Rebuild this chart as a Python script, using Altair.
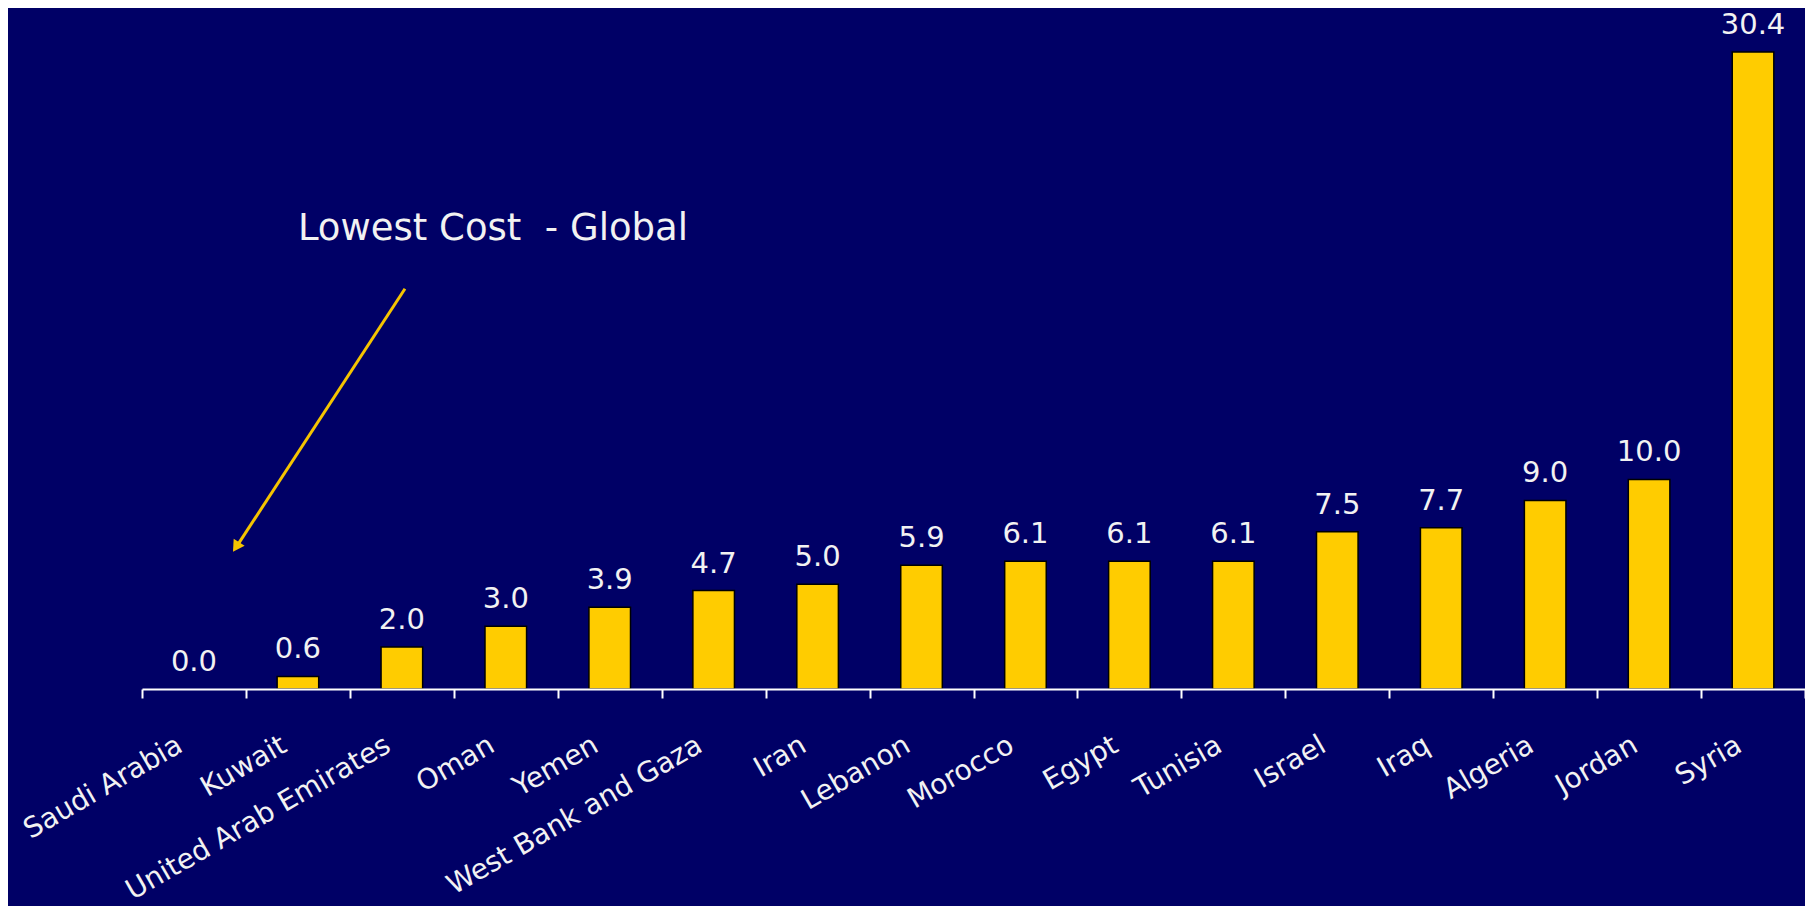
import altair as alt
import pandas as pd

# ---- data ----
countries = ["Saudi Arabia", "Kuwait", "United Arab Emirates", "Oman", "Yemen",
             "West Bank and Gaza", "Iran", "Lebanon", "Morocco", "Egypt",
             "Tunisia", "Israel", "Iraq", "Algeria", "Jordan", "Syria"]
values = [0.0, 0.6, 2.0, 3.0, 3.9, 4.7, 5.0, 5.9, 6.1, 6.1, 6.1, 7.5, 7.7, 9.0, 10.0, 30.4]

# annotation (position in band units along x, value units along y)
note_text = ["Lowest Cost\u00a0\u00a0- Global"]
note_x = [1.50]
note_y = [21.45]
arrow_x = [2.53]
arrow_y = [19.1]
arrow_x2 = [0.93]
arrow_y2 = [6.95]
head_x = [0.915]
head_y = [6.85]
edge_tick = [len(countries)]

NAVY = "#000066"
GOLD = "#FFCC00"
FONT = "DejaVu Sans"
PLOT_W = 1663
STEP = PLOT_W / len(countries)

bars_df = pd.DataFrame({"country": countries, "value": values})
note_df = pd.DataFrame({"nx": note_x, "ny": note_y, "label": note_text})
arrow_df = pd.DataFrame({"ax": arrow_x, "ay": arrow_y, "ax2": arrow_x2, "ay2": arrow_y2})
head_df = pd.DataFrame({"hx": head_x, "hy": head_y})

yscale = alt.Scale(domain=[0, 32.5], nice=False, zero=True)
band_scale = alt.Scale(paddingInner=0.6, paddingOuter=0.3)
qx_scale = alt.Scale(domain=[0, len(countries)], nice=False, zero=False)

# tickOffset moves ticks to band edges; it also moves labels, so labelOffset compensates
x_axis = alt.Axis(
    title=None, labelAngle=-30, labelAlign="right", labelBaseline="middle",
    labelPadding=45, labelOffset=STEP / 2 - 14, labelFontSize=28, labelColor="#F2F2F2",
    labelFont=FONT, labelLimit=500, domainColor="white", domainWidth=2,
    tickColor="white", tickWidth=2, tickSize=9, tickOffset=-STEP / 2,
    grid=False, zindex=1,
)

edge_axis = alt.Axis(
    orient="bottom", values=edge_tick, labels=False, domain=False, title=None,
    tickColor="white", tickWidth=2, tickSize=9, grid=False, zindex=1,
)

bars = alt.Chart(bars_df).mark_bar(color=GOLD, stroke="black").encode(
    x=alt.X("country:N", sort=countries, scale=band_scale, axis=x_axis),
    y=alt.Y("value:Q", scale=yscale, axis=None),
    strokeWidth=alt.condition("datum.value > 0", alt.value(1.5), alt.value(0)),
)

labels = alt.Chart(bars_df).mark_text(
    dy=-18, baseline="alphabetic", fontSize=29, color="#F2F2F2", font=FONT
).encode(
    x=alt.X("country:N", sort=countries, scale=band_scale, axis=None),
    y=alt.Y("value:Q", scale=yscale, axis=None),
    text=alt.Text("value:Q", format=".1f"),
)

note = alt.Chart(note_df).mark_text(
    align="left", baseline="alphabetic", fontSize=37, color="#F2F2F2", font=FONT
).encode(
    x=alt.X("nx:Q", scale=qx_scale, axis=edge_axis),
    y=alt.Y("ny:Q", scale=yscale, axis=None),
    text="label:N",
)

arrow = alt.Chart(arrow_df).mark_rule(color="#F5C400", strokeWidth=3).encode(
    x=alt.X("ax:Q", scale=qx_scale, axis=None),
    y=alt.Y("ay:Q", scale=yscale, axis=None),
    x2="ax2:Q",
    y2="ay2:Q",
)

head = alt.Chart(head_df).mark_point(
    shape="triangle", angle=213, size=170, filled=True, color="#F5C400", opacity=1
).encode(
    x=alt.X("hx:Q", scale=qx_scale, axis=None),
    y=alt.Y("hy:Q", scale=yscale, axis=None),
)

chart = alt.layer(bars, labels, note, arrow, head).resolve_scale(
    x="independent"
).properties(
    width=PLOT_W,
    height=681,
    autosize=alt.AutoSizeParams(type="none"),
    padding={"left": 134, "top": 0, "right": 0, "bottom": 217},
).configure(
    background=NAVY,
).configure_view(stroke=None)

chart.save("out.html", embed_options={"renderer": "svg", "actions": False})
